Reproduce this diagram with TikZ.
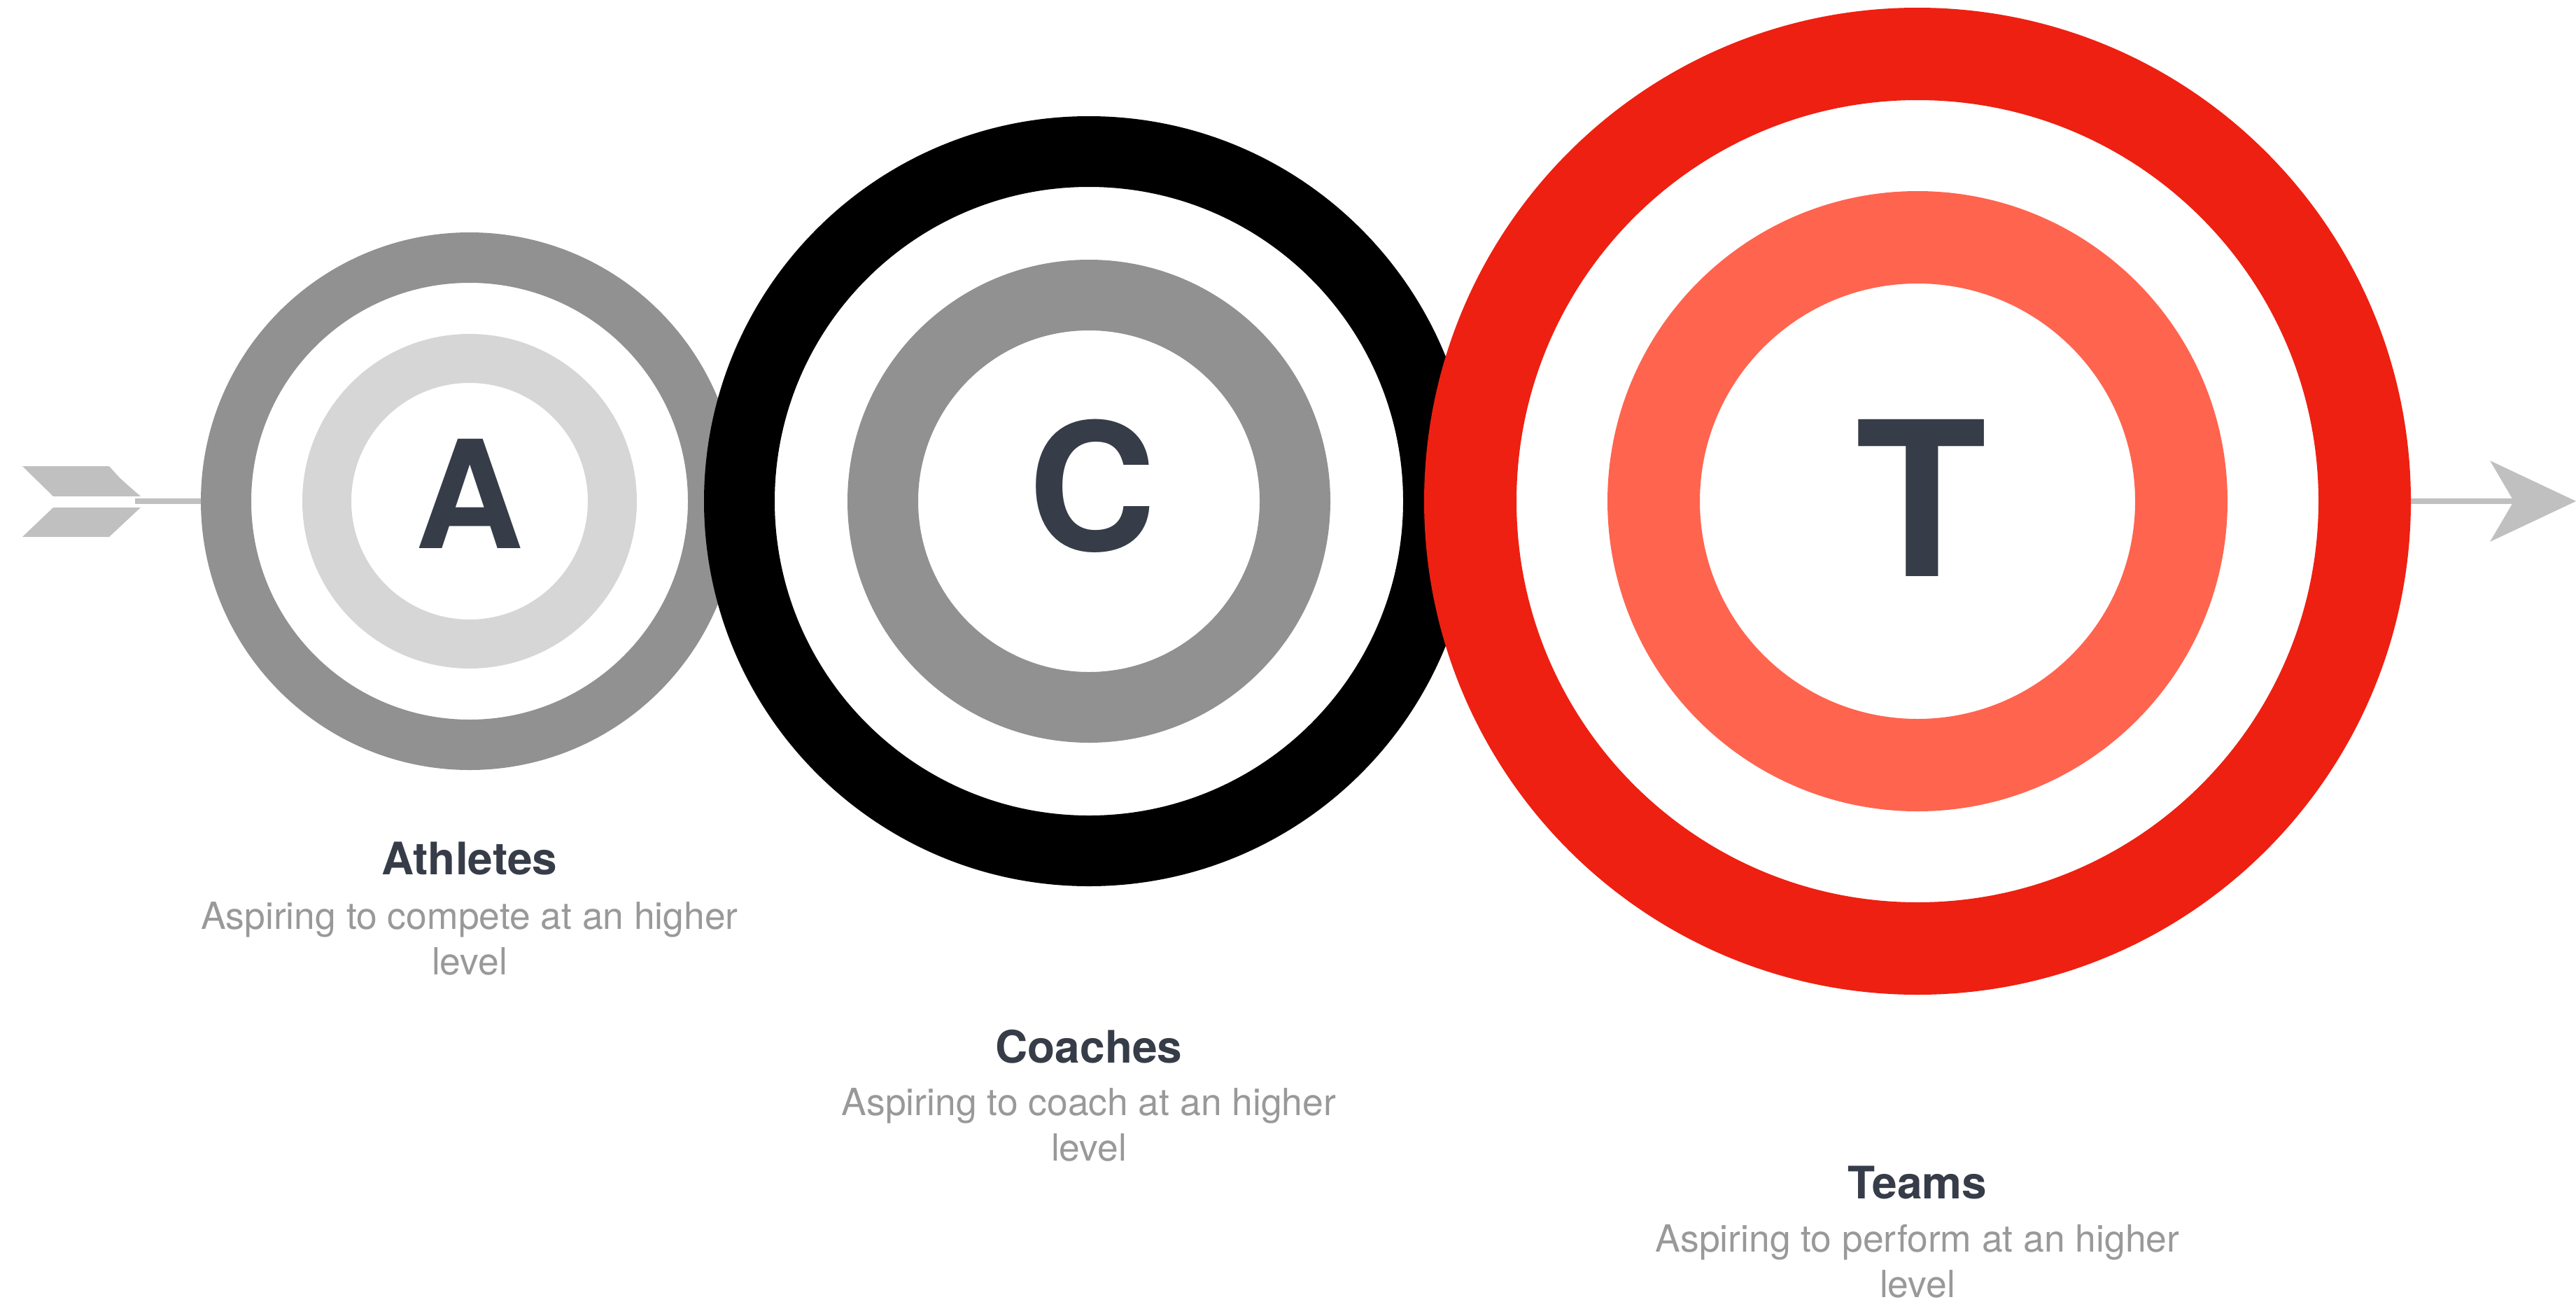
\documentclass[tikz,border=0pt]{standalone}
\usepackage{fontspec}
\setmainfont{TeX Gyre Heros}
\usetikzlibrary{positioning}
\definecolor{ringgray}{HTML}{919191}
\definecolor{ringlight}{HTML}{D6D6D6}
\definecolor{ringred}{HTML}{EE2011}
\definecolor{ringsalmon}{HTML}{FF644F}
\definecolor{inkdark}{HTML}{363C48}
\definecolor{inkgray}{HTML}{999999}
\definecolor{arrowgray}{HTML}{C0C0C0}
\begin{document}
\begin{tikzpicture}[
              ring/.style = {circle, inner sep=0pt},
              letter/.style = {inner sep=0pt, text=inkdark},
              title/.style = {anchor=base, inner sep=0pt, text=inkdark,
                font=\fontsize{18.2}{22}\selectfont\bfseries},
              blurb/.style = {anchor=base, inner sep=0pt, align=center, text=inkgray,
                font=\fontsize{15.2}{18.5}\selectfont},
              shaft/.style = {draw=arrowgray, line width=0.08cm},
              feather/.style = {fill=arrowgray}
            ]
            \useasboundingbox (0,0) rectangle (36.81,-18.59);
            % targets
            \node[ring, draw=ringgray, line width=0.72cm, minimum size=6.96cm] (athOut) at (6.71,-7.16) {};
            \node[ring, draw=ringlight, line width=0.70cm, minimum size=4.08cm] (athIn) at (athOut) {};
            \node[ring, draw=black, line width=1.01cm, minimum size=9.99cm] (coOut) at (15.56,-7.16) {};
            \node[ring, draw=ringgray, line width=1.01cm, minimum size=5.89cm] (coIn) at (coOut) {};
            \node[ring, draw=ringred, line width=1.32cm, minimum size=12.78cm] (teOut) at (27.40,-7.16) {};
            \node[ring, draw=ringsalmon, line width=1.32cm, minimum size=7.54cm] (teIn) at (teOut) {};
            \node[letter, font=\fontsize{61}{61}\selectfont\bfseries] (a) at (6.71,-7.05) {A};
            \node[letter, font=\fontsize{72}{72}\selectfont\bfseries] (c) at (15.61,-6.94) {C};
            \node[letter, font=\fontsize{87.5}{88}\selectfont\bfseries] (t) at (27.45,-7.11) {T};
            % arrow
            \coordinate (nock) at (1.93,-7.16);
            \fill[feather] (0.32,-6.66) -- (1.56,-6.66) .. controls (1.72,-6.84) .. (2.01,-7.09) -- (0.76,-7.09) -- cycle;
            \fill[feather] (0.76,-7.25) -- (2.01,-7.25) -- (1.56,-7.67) -- (0.32,-7.67) -- cycle;
            \draw[shaft] (nock) -- (athOut.west);
            \coordinate (notch) at (35.92,-7.16);
            \coordinate (tip) at (36.81,-7.16);
            \draw[shaft] (teOut.east) -- (notch);
            \fill[feather] (notch) -- (35.58,-6.58) -- (tip) -- (35.58,-7.74) -- cycle;
            % labels
            \node[title] (athName) at (6.71,-12.49) {Athletes};
            \node[blurb] (athText) at (6.71,-13.92) {Aspiring to compete at an higher\\level};
            \node[title] (coName) at (15.56,-15.18) {Coaches};
            \node[blurb] (coText) at (15.56,-16.58) {Aspiring to coach at an higher\\level};
            \node[title] (teName) at (27.40,-17.12) {Teams};
            \node[blurb] (teText) at (27.40,-18.53) {Aspiring to perform at an higher\\level};
          \end{tikzpicture}
\end{document}
